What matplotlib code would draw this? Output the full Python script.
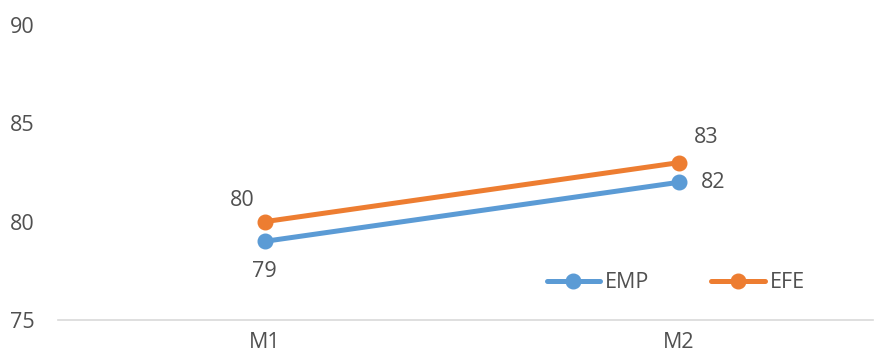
import matplotlib
matplotlib.use("Agg")
import matplotlib.pyplot as plt

categories = ["M1", "M2"]
emp = [79, 82]
efe = [80, 83]
yticks = [75, 80, 85, 90]

plt.rcParams['font.family'] = ['Open Sans', 'DejaVu Sans']
txt = "#505050"
blue = "#5B9BD5"
orange = "#ED7D31"
fs = 15.5

fig = plt.figure(figsize=(8.74, 3.61), dpi=100)
ax = fig.add_axes([58/874, 1-320/361, (873-58)/874, (320-25)/361])
x = list(range(len(categories)))
ax.plot(x, emp, color=blue, lw=3.6, marker='o', ms=10.5, label="EMP", solid_capstyle='round')
ax.plot(x, efe, color=orange, lw=3.6, marker='o', ms=10.5, label="EFE", solid_capstyle='round')

ax.set_xlim(-0.5, 1.47)
ax.set_ylim(75, 90)
ax.set_yticks(yticks)
ax.set_xticks(x)
ax.set_xticklabels(categories)
ax.tick_params(axis='both', length=0, labelsize=fs, colors=txt)
ax.tick_params(axis='y', pad=17)
ax.tick_params(axis='x', pad=9)
for s in ['top', 'right', 'left']:
    ax.spines[s].set_visible(False)
ax.spines['bottom'].set_color("#D9D9D9")
ax.spines['bottom'].set_linewidth(1.2)

# data labels
ax.annotate(str(efe[0]), (x[0], efe[0]), xytext=(-16, 15), textcoords='offset points', ha='center', va='center', fontsize=fs, color=txt)
ax.annotate(str(emp[0]), (x[0], emp[0]), xytext=(0, -22), textcoords='offset points', ha='center', va='center', fontsize=fs, color=txt)
ax.annotate(str(efe[1]), (x[1], efe[1]), xytext=(20, 18), textcoords='offset points', ha='center', va='center', fontsize=fs, color=txt)
ax.annotate(str(emp[1]), (x[1], emp[1]), xytext=(25, 0), textcoords='offset points', ha='center', va='center', fontsize=fs, color=txt)

leg = fig.legend(loc='center', bbox_to_anchor=(0.773, 1-283/361), ncol=2, frameon=False,
                 fontsize=fs, handlelength=2.5, handletextpad=0.2, columnspacing=2.9)
for t in leg.get_texts():
    t.set_color(txt)

fig.savefig("out.png", dpi=100)
